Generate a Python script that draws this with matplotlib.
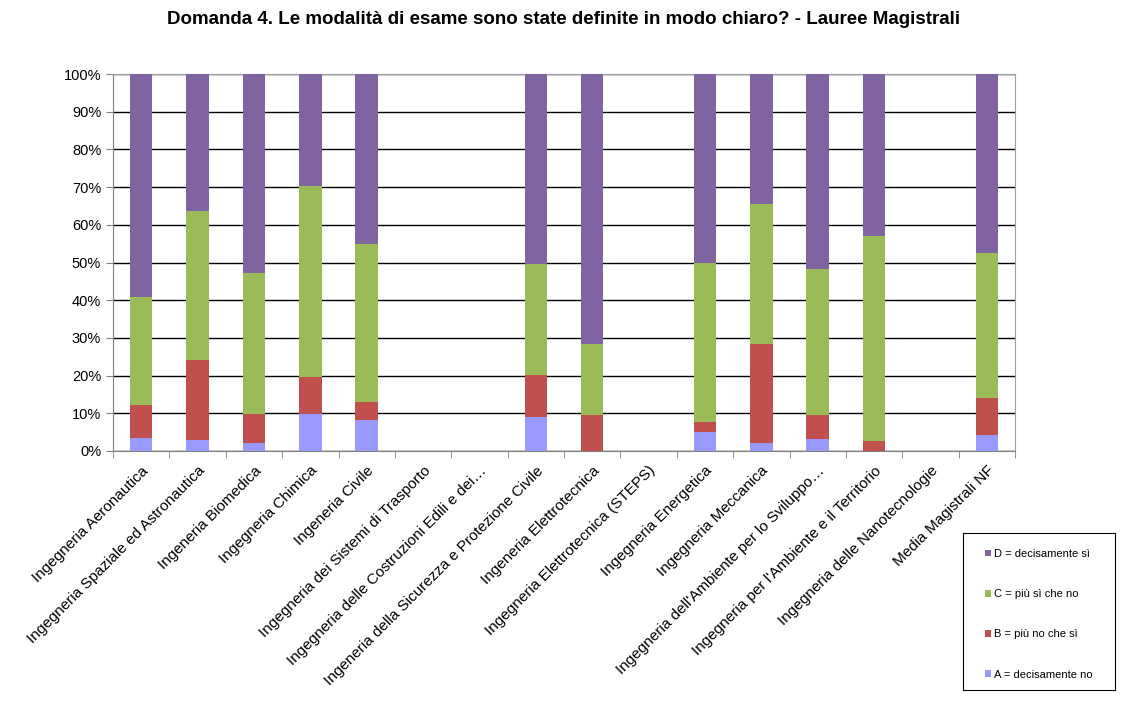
import matplotlib
matplotlib.use("Agg")
import matplotlib.pyplot as plt
import numpy as np
from matplotlib.ticker import FixedLocator, PercentFormatter
from matplotlib.patches import Rectangle

plt.rcParams['font.family'] = ['Liberation Sans', 'DejaVu Sans']

categories = [
    "Ingegneria Aeronautica",
    "Ingegneria Spaziale ed Astronautica",
    "Ingeneria Biomedica",
    "Ingegneria Chimica",
    "Ingeneria Civile",
    "Ingegneria dei Sistemi di Trasporto",
    "Ingegneria delle Costruzioni Edili e dei…",
    "Ingeneria della Sicurezza e Protezione Civile",
    "Ingeneria Elettrotecnica",
    "Ingegneria Elettrotecnica (STEPS)",
    "Ingegneria Energetica",
    "Ingegneria Meccanica",
    "Ingegneria dell'Ambiente per lo Sviluppo…",
    "Ingegneria per l'Ambiente e il Territorio",
    "Ingegneria delle Nanotecnologie",
    "Media Magistrali NF",
]

# percentages per category (0 where no data)
A_no = [3.4, 2.8, 2.1, 9.7, 8.1, 0, 0, 8.9, 0.0, 0, 5.0, 2.1, 3.2, 0.0, 0, 4.2]
B_piu_no = [8.9, 21.3, 7.6, 9.9, 5.0, 0, 0, 11.2, 9.5, 0, 2.6, 26.3, 6.4, 2.7, 0, 9.9]
C_piu_si = [28.6, 39.5, 37.6, 50.8, 41.9, 0, 0, 29.5, 18.9, 0, 42.2, 37.1, 38.6, 54.4, 0, 38.4]
D_si = [59.1, 36.4, 52.7, 29.6, 45.0, 0, 0, 50.4, 71.6, 0, 50.2, 34.5, 51.8, 42.9, 0, 47.5]

series_labels = ["A = decisamente no", "B = più no che sì", "C = più sì che no", "D = decisamente sì"]
colors = ["#9999FF", "#C0504D", "#9BBB59", "#8064A2"]

fig = plt.figure(figsize=(11.28, 7.02), dpi=100)
ax = fig.add_axes([113/1128, 1-451/702, (1015-113)/1128, (451-74)/702])

x = np.arange(len(categories))
bottom = np.zeros(len(categories))
handles = []
for vals, lab, col in zip([A_no, B_piu_no, C_piu_si, D_si], series_labels, colors):
    v = np.array(vals, dtype=float)
    h = ax.bar(x, v, 0.4, bottom=bottom, color=col, label=lab, zorder=3, linewidth=0)
    handles.append(h)
    bottom += v

ax.set_xlim(-0.5, len(categories) - 0.5)
ax.set_ylim(0, 100)
ax.set_yticks(np.arange(0, 101, 10))
ax.yaxis.set_major_formatter(PercentFormatter(decimals=0))
ax.grid(axis='y', color='black', linewidth=1.0, zorder=0)
ax.set_axisbelow(True)

ax.set_xticks(x)
ax.set_xticklabels(categories, rotation=45, ha='right', rotation_mode='anchor', fontsize=11)
ax.tick_params(axis='x', which='major', length=0, pad=9)
ax.xaxis.set_minor_locator(FixedLocator(np.arange(-0.5, len(categories), 1.0)))
ax.tick_params(axis='x', which='minor', length=5, color='#808080', direction='out')
ax.tick_params(axis='y', length=5, color='#808080', labelsize=10.5, direction='out')

for s in ['top', 'right']:
    ax.spines[s].set_color('#A0A0A0')
for s in ['left', 'bottom']:
    ax.spines[s].set_color('#808080')

fig.text(0.5, 1-20/702, "Domanda 4. Le modalità di esame sono state definite in modo chiaro? - Lauree Magistrali",
         ha='center', va='center', fontsize=13.5, fontweight='bold')

# legend frame
fig.patches.append(Rectangle((963/1128, 1-690/702), (1115-963)/1128, (690-533)/702,
                             transform=fig.transFigure, fill=False, edgecolor='black',
                             linewidth=0.8))
leg = fig.legend(handles[::-1], series_labels[::-1], loc='upper left',
                 bbox_to_anchor=(985/1128, 1-549/702),
                 bbox_transform=fig.transFigure,
                 fontsize=8, frameon=False,
                 handlelength=0.55, handleheight=0.55, handletextpad=0.3,
                 labelspacing=2.72, borderpad=0, borderaxespad=0)

fig.savefig("out.png", dpi=100)
